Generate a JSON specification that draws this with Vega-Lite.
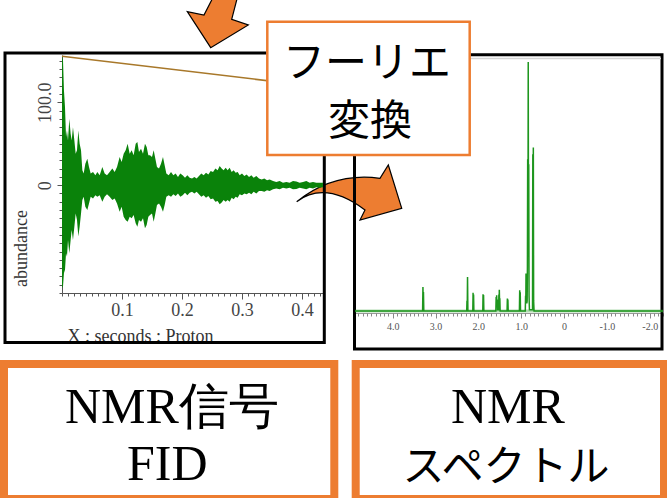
{
  "$schema": "https://vega.github.io/schema/vega-lite/v6.json",
  "width": 667,
  "height": 498,
  "padding": 0,
  "autosize": {"type": "none"},
  "background": "white",
  "config": {
    "view": {"stroke": null},
    "axis": {"grid": false},
    "scale": {"zero": false}
  },
  "datasets": {
    "fid": [
      {"t": 0, "hi": 156, "lo": -124},
      {"t": 0.0017, "hi": 150, "lo": -122},
      {"t": 0.0033, "hi": 114, "lo": -106},
      {"t": 0.005, "hi": 94, "lo": -102},
      {"t": 0.0067, "hi": 58, "lo": -82},
      {"t": 0.0083, "hi": 66, "lo": -86},
      {"t": 0.01, "hi": 54, "lo": -66},
      {"t": 0.0122, "hi": 80, "lo": -82},
      {"t": 0.0144, "hi": 62, "lo": -66},
      {"t": 0.0161, "hi": 54, "lo": -54},
      {"t": 0.0183, "hi": 70, "lo": -66},
      {"t": 0.0206, "hi": 54, "lo": -50},
      {"t": 0.0228, "hi": 38, "lo": -34},
      {"t": 0.025, "hi": 42, "lo": -42},
      {"t": 0.0272, "hi": 66, "lo": -62},
      {"t": 0.0294, "hi": 50, "lo": -50},
      {"t": 0.0317, "hi": 42, "lo": -34},
      {"t": 0.0339, "hi": 18, "lo": -18},
      {"t": 0.0361, "hi": 14, "lo": -14},
      {"t": 0.0389, "hi": 26, "lo": -26},
      {"t": 0.0422, "hi": 32, "lo": -30},
      {"t": 0.045, "hi": 22, "lo": -22},
      {"t": 0.0478, "hi": 14, "lo": -14},
      {"t": 0.0517, "hi": 16, "lo": -16},
      {"t": 0.0556, "hi": 12, "lo": -12},
      {"t": 0.0589, "hi": 16, "lo": -14},
      {"t": 0.0628, "hi": 12, "lo": -12},
      {"t": 0.0672, "hi": 22, "lo": -20},
      {"t": 0.0711, "hi": 14, "lo": -14},
      {"t": 0.075, "hi": 12, "lo": -11},
      {"t": 0.0794, "hi": 16, "lo": -14},
      {"t": 0.0839, "hi": 20, "lo": -18},
      {"t": 0.0878, "hi": 16, "lo": -16},
      {"t": 0.0917, "hi": 22, "lo": -22},
      {"t": 0.0961, "hi": 34, "lo": -32},
      {"t": 0.0994, "hi": 28, "lo": -26},
      {"t": 0.1028, "hi": 38, "lo": -38},
      {"t": 0.1061, "hi": 42, "lo": -42},
      {"t": 0.1094, "hi": 50, "lo": -44},
      {"t": 0.1128, "hi": 38, "lo": -38},
      {"t": 0.1161, "hi": 42, "lo": -40},
      {"t": 0.1194, "hi": 36, "lo": -36},
      {"t": 0.1228, "hi": 50, "lo": -46},
      {"t": 0.1256, "hi": 52, "lo": -50},
      {"t": 0.1283, "hi": 40, "lo": -42},
      {"t": 0.1317, "hi": 44, "lo": -44},
      {"t": 0.135, "hi": 38, "lo": -40},
      {"t": 0.1383, "hi": 50, "lo": -52},
      {"t": 0.1411, "hi": 46, "lo": -48},
      {"t": 0.1439, "hi": 36, "lo": -38},
      {"t": 0.1467, "hi": 36, "lo": -36},
      {"t": 0.15, "hi": 34, "lo": -34},
      {"t": 0.1528, "hi": 42, "lo": -44},
      {"t": 0.1556, "hi": 32, "lo": -34},
      {"t": 0.1583, "hi": 22, "lo": -24},
      {"t": 0.1617, "hi": 20, "lo": -22},
      {"t": 0.165, "hi": 26, "lo": -26},
      {"t": 0.1683, "hi": 34, "lo": -32},
      {"t": 0.1711, "hi": 24, "lo": -24},
      {"t": 0.1739, "hi": 14, "lo": -14},
      {"t": 0.1778, "hi": 12, "lo": -12},
      {"t": 0.1817, "hi": 16, "lo": -14},
      {"t": 0.1856, "hi": 12, "lo": -11},
      {"t": 0.1894, "hi": 14, "lo": -13},
      {"t": 0.1933, "hi": 10, "lo": -10},
      {"t": 0.1972, "hi": 14, "lo": -14},
      {"t": 0.2011, "hi": 12, "lo": -12},
      {"t": 0.205, "hi": 9, "lo": -9},
      {"t": 0.2089, "hi": 12, "lo": -12},
      {"t": 0.2128, "hi": 9, "lo": -9},
      {"t": 0.2167, "hi": 8, "lo": -8},
      {"t": 0.2206, "hi": 10, "lo": -10},
      {"t": 0.2244, "hi": 8, "lo": -8},
      {"t": 0.2283, "hi": 11, "lo": -11},
      {"t": 0.2322, "hi": 14, "lo": -14},
      {"t": 0.2361, "hi": 12, "lo": -12},
      {"t": 0.24, "hi": 15, "lo": -15},
      {"t": 0.2439, "hi": 13, "lo": -13},
      {"t": 0.2478, "hi": 17, "lo": -17},
      {"t": 0.2517, "hi": 16, "lo": -16},
      {"t": 0.2556, "hi": 20, "lo": -20},
      {"t": 0.2594, "hi": 18, "lo": -19},
      {"t": 0.2628, "hi": 23, "lo": -23},
      {"t": 0.2661, "hi": 20, "lo": -21},
      {"t": 0.2694, "hi": 18, "lo": -18},
      {"t": 0.2728, "hi": 21, "lo": -20},
      {"t": 0.2761, "hi": 18, "lo": -18},
      {"t": 0.2794, "hi": 21, "lo": -20},
      {"t": 0.2828, "hi": 16, "lo": -15},
      {"t": 0.2861, "hi": 18, "lo": -17},
      {"t": 0.2894, "hi": 15, "lo": -14},
      {"t": 0.2928, "hi": 16, "lo": -15},
      {"t": 0.2961, "hi": 12, "lo": -11},
      {"t": 0.3, "hi": 14, "lo": -12},
      {"t": 0.3039, "hi": 11, "lo": -10},
      {"t": 0.3078, "hi": 13, "lo": -11},
      {"t": 0.3117, "hi": 10, "lo": -9},
      {"t": 0.3156, "hi": 12, "lo": -11},
      {"t": 0.3194, "hi": 9, "lo": -8},
      {"t": 0.3239, "hi": 11, "lo": -10},
      {"t": 0.3283, "hi": 8, "lo": -7},
      {"t": 0.3328, "hi": 7, "lo": -7},
      {"t": 0.3372, "hi": 8, "lo": -8},
      {"t": 0.3417, "hi": 6, "lo": -6},
      {"t": 0.3461, "hi": 7, "lo": -7},
      {"t": 0.3517, "hi": 5, "lo": -5},
      {"t": 0.3572, "hi": 4, "lo": -4},
      {"t": 0.3628, "hi": 5, "lo": -5},
      {"t": 0.3683, "hi": 3, "lo": -3},
      {"t": 0.3739, "hi": 4, "lo": -4},
      {"t": 0.3794, "hi": 3, "lo": -3},
      {"t": 0.385, "hi": 5, "lo": -5},
      {"t": 0.3906, "hi": 4.5, "lo": -4.5},
      {"t": 0.3961, "hi": 3, "lo": -3},
      {"t": 0.4017, "hi": 4, "lo": -4},
      {"t": 0.4072, "hi": 5, "lo": -5},
      {"t": 0.4128, "hi": 3, "lo": -3},
      {"t": 0.4183, "hi": 4, "lo": -4},
      {"t": 0.4239, "hi": 3, "lo": -2.5},
      {"t": 0.4294, "hi": 3, "lo": -3},
      {"t": 0.435, "hi": 3, "lo": -2.5}
    ],
    "integral": [
      {"t": 0, "v": 155.5},
      {"t": 0.435, "v": 118}
    ],
    "spec": [
      {"ppm": 4.88, "intensity": 0},
      {"ppm": 3.302, "intensity": 0},
      {"ppm": 3.294, "intensity": 9.5},
      {"ppm": 3.288, "intensity": 4},
      {"ppm": 3.282, "intensity": 7.5},
      {"ppm": 3.274, "intensity": 0},
      {"ppm": 2.272, "intensity": 0},
      {"ppm": 2.266, "intensity": 4},
      {"ppm": 2.26, "intensity": 1},
      {"ppm": 2.253, "intensity": 13.4},
      {"ppm": 2.245, "intensity": 0},
      {"ppm": 2.13, "intensity": 0},
      {"ppm": 2.124, "intensity": 7.2},
      {"ppm": 2.118, "intensity": 2},
      {"ppm": 2.112, "intensity": 6.5},
      {"ppm": 2.105, "intensity": 0},
      {"ppm": 1.897, "intensity": 0},
      {"ppm": 1.891, "intensity": 6.6},
      {"ppm": 1.885, "intensity": 2},
      {"ppm": 1.879, "intensity": 6.3},
      {"ppm": 1.872, "intensity": 0},
      {"ppm": 1.592, "intensity": 0},
      {"ppm": 1.585, "intensity": 5.5},
      {"ppm": 1.579, "intensity": 2},
      {"ppm": 1.573, "intensity": 6.2},
      {"ppm": 1.566, "intensity": 2},
      {"ppm": 1.56, "intensity": 4.5},
      {"ppm": 1.553, "intensity": 0.5},
      {"ppm": 1.528, "intensity": 0.5},
      {"ppm": 1.521, "intensity": 6.5},
      {"ppm": 1.516, "intensity": 3},
      {"ppm": 1.511, "intensity": 8.4},
      {"ppm": 1.505, "intensity": 3},
      {"ppm": 1.499, "intensity": 5},
      {"ppm": 1.492, "intensity": 0},
      {"ppm": 1.33, "intensity": 0},
      {"ppm": 1.323, "intensity": 4.9},
      {"ppm": 1.317, "intensity": 2.5},
      {"ppm": 1.311, "intensity": 4.5},
      {"ppm": 1.304, "intensity": 0},
      {"ppm": 1.042, "intensity": 0},
      {"ppm": 1.035, "intensity": 8.2},
      {"ppm": 1.029, "intensity": 3},
      {"ppm": 1.023, "intensity": 7.4},
      {"ppm": 1.016, "intensity": 0},
      {"ppm": 0.905, "intensity": 0},
      {"ppm": 0.898, "intensity": 6},
      {"ppm": 0.893, "intensity": 3},
      {"ppm": 0.888, "intensity": 14.8},
      {"ppm": 0.882, "intensity": 5},
      {"ppm": 0.876, "intensity": 10},
      {"ppm": 0.869, "intensity": 3},
      {"ppm": 0.861, "intensity": 4},
      {"ppm": 0.855, "intensity": 18},
      {"ppm": 0.849, "intensity": 60},
      {"ppm": 0.843, "intensity": 22},
      {"ppm": 0.836, "intensity": 98.4},
      {"ppm": 0.83, "intensity": 30},
      {"ppm": 0.824, "intensity": 58},
      {"ppm": 0.817, "intensity": 6},
      {"ppm": 0.808, "intensity": 0.5},
      {"ppm": 0.736, "intensity": 0.5},
      {"ppm": 0.729, "intensity": 62},
      {"ppm": 0.723, "intensity": 15},
      {"ppm": 0.717, "intensity": 64.6},
      {"ppm": 0.71, "intensity": 4},
      {"ppm": 0.7, "intensity": 0},
      {"ppm": -2.31, "intensity": 0}
    ]
  },
  "layer": [
    {
      "description": "Background of the diagram: caption boxes, orange arrows, panel frames",
      "data": {"values": [{}]},
      "layer": [
        {
          "mark": {"type": "rect", "fill": "white", "stroke": "#ED7D31", "strokeWidth": 8},
          "encoding": {
            "x": {"datum": 4, "type": "quantitative", "scale": {"domain": [0, 667], "range": [0, 667], "nice": false}, "axis": null},
            "x2": {"datum": 334.3},
            "y": {"datum": 364, "type": "quantitative", "scale": {"domain": [0, 498], "range": [0, 498], "nice": false}, "axis": null},
            "y2": {"datum": 499}
          }
        },
        {
          "mark": {"type": "rect", "fill": "white", "stroke": "#ED7D31", "strokeWidth": 8},
          "encoding": {
            "x": {"datum": 355.7, "type": "quantitative"},
            "x2": {"datum": 664},
            "y": {"datum": 364, "type": "quantitative"},
            "y2": {"datum": 499}
          }
        },
        {
          "mark": {
            "type": "point",
            "shape": "M-0.991,0.174Q-0.294,-0.387,0.581,-0.268L0.738,-0.519L0.991,0.298L0.204,0.519L0.298,0.33Q-0.453,-0.232,-0.991,0.174Z",
            "size": 11236,
            "filled": true,
            "fill": "#ED7D31",
            "stroke": "#000000",
            "strokeWidth": 1.2,
            "opacity": 1
          },
          "encoding": {
            "x": {"datum": 349.2, "type": "quantitative"},
            "y": {"datum": 192.5, "type": "quantitative"}
          }
        },
        {
          "mark": {
            "type": "point",
            "shape": "M0.169,-0.984L-0.313,-0.047L-0.834,-0.15L-0.103,0.975L1.072,0.266L0.553,0.088L0.831,-0.984Z",
            "size": 4096,
            "filled": true,
            "fill": "#ED7D31",
            "stroke": "#000000",
            "strokeWidth": 1.2,
            "opacity": 1
          },
          "encoding": {
            "x": {"datum": 214, "type": "quantitative"},
            "y": {"datum": 16.5, "type": "quantitative"}
          }
        },
        {
          "mark": {"type": "rect", "filled": false, "stroke": "#000000", "strokeWidth": 3},
          "encoding": {
            "x": {"datum": 5, "type": "quantitative"},
            "x2": {"datum": 324.3},
            "y": {"datum": 53, "type": "quantitative"},
            "y2": {"datum": 342.5}
          }
        },
        {
          "mark": {"type": "rect", "filled": false, "stroke": "#000000", "strokeWidth": 3},
          "encoding": {
            "x": {"datum": 354.5, "type": "quantitative"},
            "x2": {"datum": 662},
            "y": {"datum": 54.7, "type": "quantitative"},
            "y2": {"datum": 349}
          }
        },
        {
          "mark": {"type": "rule", "stroke": "#d4d4d4", "strokeWidth": 1.5},
          "encoding": {
            "x": {"datum": 356, "type": "quantitative"},
            "x2": {"datum": 661},
            "y": {"datum": 58.5, "type": "quantitative"}
          }
        }
      ]
    },
    {
      "description": "Captions under the two panels",
      "data": {"values": [{}]},
      "layer": [
        {
          "mark": {"type": "text", "text": "NMR信号", "font": "Liberation Serif", "fontSize": 50, "fontStyle": "normal", "align": "left", "baseline": "alphabetic"},
          "encoding": {
            "x": {"datum": 65, "type": "quantitative", "scale": {"domain": [0, 667], "range": [0, 667], "nice": false}, "axis": null},
            "y": {"datum": 423, "type": "quantitative", "scale": {"domain": [0, 498], "range": [0, 498], "nice": false}, "axis": null}
          }
        },
        {
          "mark": {"type": "text", "text": "FID", "font": "Liberation Serif", "fontSize": 50, "fontStyle": "normal", "align": "left", "baseline": "alphabetic"},
          "encoding": {"x": {"datum": 127, "type": "quantitative"}, "y": {"datum": 480, "type": "quantitative"}}
        },
        {
          "mark": {"type": "text", "text": "NMR", "font": "Liberation Serif", "fontSize": 50, "fontStyle": "normal", "align": "left", "baseline": "alphabetic"},
          "encoding": {"x": {"datum": 451, "type": "quantitative"}, "y": {"datum": 423, "type": "quantitative"}}
        },
        {
          "mark": {"type": "text", "text": "スペクトル", "font": "Noto Sans CJK JP", "fontSize": 42, "align": "center", "baseline": "alphabetic"},
          "encoding": {"x": {"datum": 506, "type": "quantitative"}, "y": {"datum": 481, "type": "quantitative"}}
        }
      ]
    },
    {
      "description": "Free induction decay: signal envelope and integral trace",
      "layer": [
        {
          "data": {"name": "fid"},
          "mark": {"type": "area", "color": "#0a820a", "interpolate": "linear"},
          "encoding": {
            "x": {
              "field": "t", "type": "quantitative",
              "scale": {"domain": [0, 0.435], "range": [62, 323], "nice": false},
              "axis": {
                "orient": "bottom", "offset": -205,
                "values": [0.1, 0.2, 0.3, 0.4], "format": ".1f",
                "tickSize": 6, "tickColor": "#555", "domainColor": "#555",
                "labelFont": "Liberation Serif", "labelFontSize": 18, "labelColor": "#444",
                "labelPadding": 2, "labelFlush": false,
                "title": "X : seconds : Proton",
                "titleFont": "Liberation Serif", "titleFontSize": 18, "titleFontWeight": "normal",
                "titleColor": "#333", "titleX": 67, "titleY": 48,
                "titleAlign": "left", "titleBaseline": "alphabetic"
              }
            },
            "y": {
              "field": "hi", "type": "quantitative",
              "scale": {"domain": [-130, 157], "range": [293, 55], "nice": false},
              "axis": {
                "orient": "left", "offset": -62,
                "values": [0, 100],
                "labelExpr": "datum.value == 0 ? '0' : format(datum.value, '.1f')",
                "labelAngle": -90, "labelAlign": "center", "labelBaseline": "bottom",
                "tickSize": 5, "tickColor": "#555", "domainColor": "#555",
                "labelFont": "Liberation Serif", "labelFontSize": 18, "labelColor": "#444",
                "labelPadding": 3,
                "title": "abundance",
                "titleFont": "Liberation Serif", "titleFontSize": 18, "titleFontWeight": "normal",
                "titleColor": "#333", "titleAngle": -90, "titleX": -41, "titleY": 248,
                "titleAlign": "center", "titleBaseline": "middle"
              }
            },
            "y2": {"field": "lo"}
          }
        },
        {
          "data": {"name": "integral"},
          "mark": {"type": "line", "color": "#a8782a", "strokeWidth": 1.5},
          "encoding": {
            "x": {
              "field": "t", "type": "quantitative",
              "axis": {"orient": "bottom", "offset": -205, "tickCount": 44, "labels": false, "domain": false, "tickSize": 3, "tickColor": "#555", "title": null}
            },
            "y": {
              "field": "v", "type": "quantitative",
              "axis": {"orient": "left", "offset": -62, "tickCount": 29, "labels": false, "domain": false, "tickSize": 3, "tickColor": "#555", "title": null}
            }
          }
        }
      ],
      "resolve": {"axis": {"x": "independent", "y": "independent"}}
    },
    {
      "description": "1H NMR spectrum in ppm",
      "layer": [
        {
          "data": {"name": "spec"},
          "mark": {"type": "line", "color": "#1e961e", "strokeWidth": 1.5},
          "encoding": {
            "x": {
              "field": "ppm", "type": "quantitative",
              "scale": {"domain": [-2.31, 4.88], "range": [663, 355], "nice": false},
              "axis": {
                "orient": "bottom", "offset": -185,
                "values": [4, 3, 2, 1, 0, -1, -2],
                "labelExpr": "datum.value == 0 ? '0' : (datum.value < 0 ? '-' : '') + format(abs(datum.value), '.1f')",
                "tickSize": 5, "tickColor": "#888", "domainColor": "#999",
                "labelFont": "Liberation Serif", "labelFontSize": 10, "labelColor": "#555",
                "labelPadding": 3, "labelFlush": false, "title": null
              }
            },
            "y": {
              "field": "intensity", "type": "quantitative",
              "scale": {"domain": [0, 100], "range": [311, 58], "nice": false},
              "axis": null
            }
          }
        },
        {
          "data": {"values": [{}]},
          "mark": {"type": "rule", "color": "#1e961e", "strokeWidth": 3, "opacity": 0.35},
          "encoding": {
            "x": {
              "datum": 4.88, "type": "quantitative",
              "axis": {"orient": "bottom", "offset": -185, "tickCount": 72, "labels": false, "domain": false, "tickSize": 3, "tickColor": "#888", "title": null}
            },
            "x2": {"datum": -2.31},
            "y": {"datum": 0, "type": "quantitative"}
          }
        }
      ],
      "resolve": {"axis": {"x": "independent"}}
    },
    {
      "description": "Foreground: Fourier transform label box",
      "data": {"values": [{}]},
      "layer": [
        {
          "mark": {"type": "rect", "fill": "white", "stroke": "#ED7D31", "strokeWidth": 2.5},
          "encoding": {
            "x": {"datum": 267.3, "type": "quantitative", "scale": {"domain": [0, 667], "range": [0, 667], "nice": false}, "axis": null},
            "x2": {"datum": 469.7},
            "y": {"datum": 21.7, "type": "quantitative", "scale": {"domain": [0, 498], "range": [0, 498], "nice": false}, "axis": null},
            "y2": {"datum": 155}
          }
        },
        {
          "mark": {"type": "text", "text": "フーリエ", "font": "Noto Sans CJK JP", "fontSize": 42, "align": "center", "baseline": "alphabetic"},
          "encoding": {"x": {"datum": 367, "type": "quantitative"}, "y": {"datum": 77, "type": "quantitative"}}
        },
        {
          "mark": {"type": "text", "text": "変換", "font": "Noto Sans CJK JP", "fontSize": 42, "align": "center", "baseline": "alphabetic"},
          "encoding": {"x": {"datum": 370, "type": "quantitative"}, "y": {"datum": 135, "type": "quantitative"}}
        }
      ]
    }
  ],
  "resolve": {
    "scale": {"x": "independent", "y": "independent"},
    "axis": {"x": "independent", "y": "independent"}
  }
}
